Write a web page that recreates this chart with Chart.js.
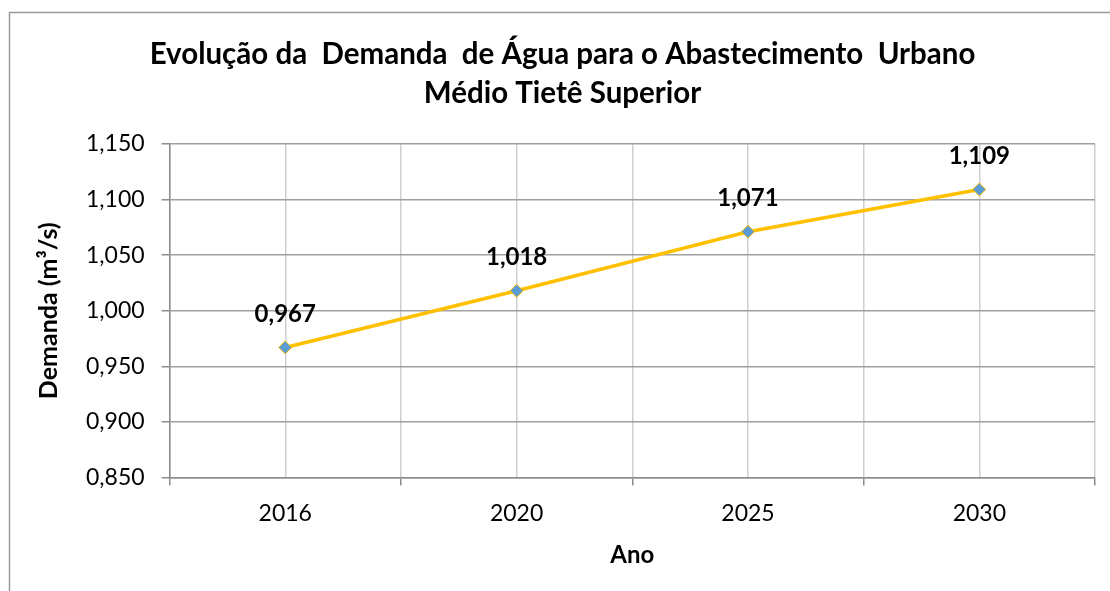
<!DOCTYPE html>
<html>
<head>
<meta charset="utf-8">
<script src="https://cdn.jsdelivr.net/npm/chart.js@4"></script>
<style>
  html, body { margin: 0; padding: 0; background: #fff; }
  #wrap { width: 1110px; height: 591px; }
</style>
</head>
<body>
<div id="wrap"><canvas id="demanda"></canvas></div>
<script>
// dados
var anos = ['2016', '2020', '2025', '2030'];
var demanda = [0.967, 1.018, 1.071, 1.109];
var yMin = 0.85, yMax = 1.15, yPasso = 0.05;

var tituloLinhas = ['Evolução da  Demanda  de Água para o Abastecimento  Urbano', 'Médio Tietê Superior'];
var fonte = 'Lato, "Open Sans", sans-serif';

function fmt(v) {
    return v.toFixed(3).replace('.', ',');
}

// borda do grafico (so esquerda e topo aparecem no recorte)
var borda = {
    id: 'borda',
    beforeDraw: function(chart) {
        var ctx = chart.ctx;
        ctx.save();
        ctx.strokeStyle = '#9a9a9a';
        ctx.lineWidth = 1.5;
        ctx.beginPath();
        ctx.moveTo(9.5, chart.height + 5);
        ctx.lineTo(9.5, 12.5);
        ctx.lineTo(chart.width + 5, 12.5);
        ctx.stroke();
        ctx.restore();
    }
};

// rotulos de dados acima dos pontos
var rotulos = {
    id: 'rotulos',
    afterDatasetsDraw: function(chart) {
        var ctx = chart.ctx;
        var meta = chart.getDatasetMeta(0);
        ctx.save();
        ctx.font = 'bold 24px ' + fonte;
        ctx.fillStyle = '#000';
        ctx.textAlign = 'center';
        ctx.textBaseline = 'middle';
        meta.data.forEach(function(p, i) {
            ctx.fillText(fmt(demanda[i]), p.x, p.y - 33);
        });
        ctx.restore();
    }
};

var ctx = document.getElementById('demanda').getContext('2d');
var myChart = new Chart(ctx, {
    type: 'line',
    data: {
        labels: anos,
        datasets: [{
            data: demanda,
            borderColor: '#FFC000',
            borderWidth: 3.5,
            pointStyle: 'rectRot',
            pointRadius: 6.5,
            pointHoverRadius: 6.5,
            pointBackgroundColor: '#5B9BD5',
            pointBorderColor: '#FFC000',
            pointBorderWidth: 1,
            tension: 0
        }]
    },
    options: {
        responsive: true,
        maintainAspectRatio: false,
        animation: false,
        layout: { padding: { left: 30, right: 15, top: 35, bottom: 15 } },
        plugins: {
            legend: { display: false },
            tooltip: { enabled: false },
            title: {
                display: true,
                text: tituloLinhas,
                color: '#000',
                font: { family: fonte, size: 29.5, weight: 'bold', lineHeight: 1.32 },
                padding: { top: 0, bottom: 31 }
            }
        },
        scales: {
            x: {
                type: 'category',
                offset: true,
                grid: {
                    offset: true,
                    color: '#cfcfcf',
                    tickColor: '#8c8c8c',
                    tickLength: 8,
                    lineWidth: 1.5
                },
                border: { display: true, color: '#8c8c8c', width: 1.5 },
                ticks: { color: '#000', font: { family: fonte, size: 23 }, padding: 14 },
                title: {
                    display: true,
                    text: 'Ano',
                    color: '#000',
                    font: { family: fonte, size: 24, weight: 'bold' },
                    padding: { top: 0, bottom: 6 }
                }
            },
            xc: {
                type: 'category',
                position: 'bottom',
                offset: true,
                grid: { offset: false, color: '#cfcfcf', lineWidth: 1.5, drawTicks: false },
                border: { display: false },
                ticks: { display: false }
            },
            y: {
                min: yMin,
                max: yMax,
                grid: { color: '#a0a0a0', tickColor: '#8c8c8c', tickLength: 8, lineWidth: 1.5 },
                border: { display: true, color: '#8c8c8c', width: 1.5 },
                ticks: {
                    stepSize: yPasso,
                    color: '#000',
                    font: { family: fonte, size: 23 },
                    padding: 17,
                    callback: function(v) { return fmt(v); }
                },
                title: {
                    display: true,
                    text: 'Demanda (m³/s)',
                    color: '#000',
                    font: { family: fonte, size: 25, weight: 'bold' },
                    padding: { top: 4, bottom: 5 }
                }
            }
        }
    },
    plugins: [borda, rotulos]
});
</script>
</body>
</html>
